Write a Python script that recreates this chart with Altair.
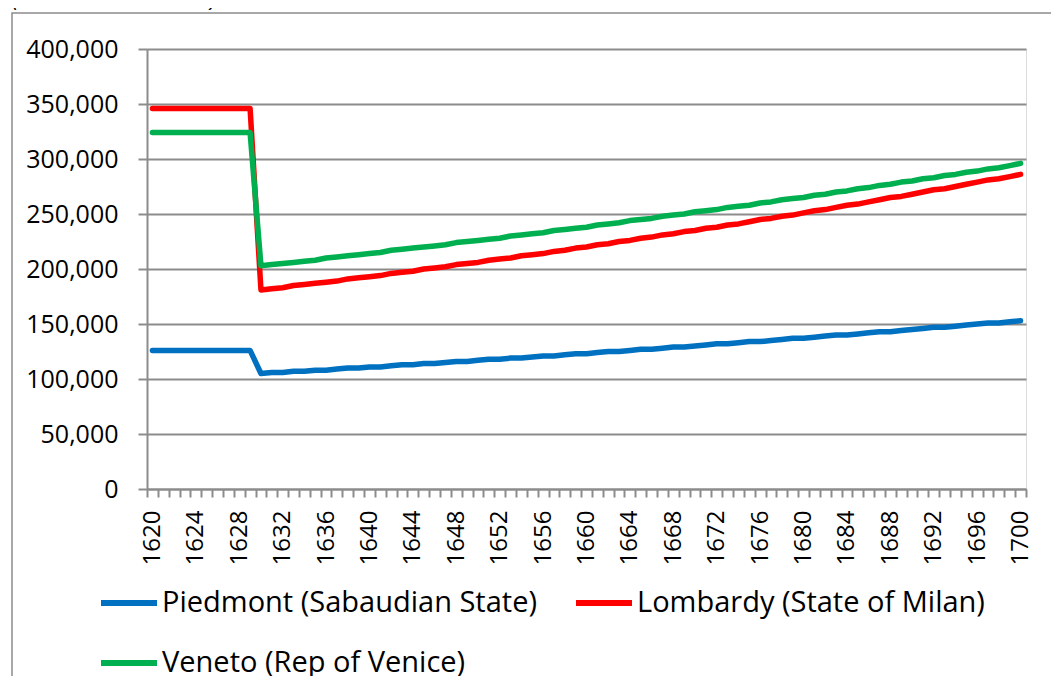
import altair as alt
import pandas as pd

years = list(range(1620, 1701))

piedmont = [126] * 10 + [
    105, 106, 106, 107, 107, 108, 108, 109, 110, 110, 111, 111, 112, 113, 113, 114,
    114, 115, 116, 116, 117, 118, 118, 119, 119, 120, 121, 121, 122, 123, 123, 124,
    125, 125, 126, 127, 127, 128, 129, 129, 130, 131, 132, 132, 133, 134, 134, 135,
    136, 137, 137, 138, 139, 140, 140, 141, 142, 143, 143, 144, 145, 146, 147, 147,
    148, 149, 150, 151, 151, 152, 153]

lombardy = [346] * 10 + [
    181, 182, 183, 185, 186, 187, 188, 189, 191, 192, 193, 194, 196, 197, 198, 200,
    201, 202, 204, 205, 206, 208, 209, 210, 212, 213, 214, 216, 217, 219, 220, 222,
    223, 225, 226, 228, 229, 231, 232, 234, 235, 237, 238, 240, 241, 243, 245, 246,
    248, 249, 251, 253, 254, 256, 258, 259, 261, 263, 265, 266, 268, 270, 272, 273,
    275, 277, 279, 281, 282, 284, 286]

veneto = [324] * 10 + [
    203, 204, 205, 206, 207, 208, 210, 211, 212, 213, 214, 215, 217, 218, 219, 220,
    221, 222, 224, 225, 226, 227, 228, 230, 231, 232, 233, 235, 236, 237, 238, 240,
    241, 242, 244, 245, 246, 248, 249, 250, 252, 253, 254, 256, 257, 258, 260, 261,
    263, 264, 265, 267, 268, 270, 271, 273, 274, 276, 277, 279, 280, 282, 283, 285,
    286, 288, 289, 291, 292, 294, 296]

series_names = ["Piedmont (Sabaudian State)", "Lombardy (State of Milan)", "Veneto (Rep of Venice)"]
series_colors = ["#0070C0", "#FF0000", "#00B050"]
y_ticks = [0, 50000, 100000, 150000, 200000, 250000, 300000, 350000, 400000]
title_text = "(absolute numbers)"

rows = []
for name, vals in zip(series_names, [piedmont, lombardy, veneto]):
    for yr, v in zip(years, vals):
        rows.append({"year": yr, "value": v * 1000, "region": name})
df = pd.DataFrame(rows)

# legend is filled column by column: order so that rows read Piedmont, Lombardy / Veneto
legend_order = [series_names[0], series_names[2], series_names[1]]
legend_colors = [series_colors[0], series_colors[2], series_colors[1]]

FONT = "Open Sans"
GRAY = "#8c8c8c"
W, H = 879, 440
band = W / 81.0

tick_vals = [y - 0.5 for y in years] + [1700.5]

lines = alt.Chart(df).mark_line(strokeWidth=5.5, strokeCap="round", strokeJoin="round").encode(
    x=alt.X("year:Q",
            scale=alt.Scale(domain=[1619.5, 1700.5], nice=False, zero=False),
            axis=alt.Axis(values=tick_vals, title=None, grid=False,
                          labelExpr="(datum.value + 0.5 - 1620) % 4 == 0 ? '' + (datum.value + 0.5) : ''",
                          labelAngle=-90, labelAlign="right", labelBaseline="middle",
                          labelOffset=band / 2, labelFlush=False, labelOverlap=False,
                          labelFont=FONT, labelFontSize=24, labelColor="#000000",
                          labelPadding=13, tickSize=8, tickColor=GRAY, tickWidth=2,
                          domainColor=GRAY, domainWidth=2)),
    y=alt.Y("value:Q",
            scale=alt.Scale(domain=[0, 400000], nice=False),
            axis=alt.Axis(values=y_ticks, title=None, format=",.0f", grid=True,
                          gridColor=GRAY, gridWidth=2, tickColor=GRAY, tickWidth=2,
                          tickSize=9, labelPadding=20, labelFont=FONT, labelFontSize=25,
                          labelColor="#000000", domainColor=GRAY, domainWidth=2)),
    color=alt.Color("region:N",
                    scale=alt.Scale(domain=legend_order, range=legend_colors),
                    legend=alt.Legend(title=None, orient="none", legendX=-49, legendY=523,
                                      columns=2, symbolType="stroke", symbolSize=3136,
                                      symbolStrokeWidth=6, labelFont=FONT, labelFontSize=29,
                                      labelColor="#000000", labelLimit=0, labelOffset=2,
                                      columnPadding=27, rowPadding=14)),
)

border = alt.Chart(pd.DataFrame({"t": [title_text]})).mark_rect(
    filled=False, stroke=GRAY, strokeWidth=1.5
).encode(x=alt.value(-135), y=alt.value(-36), x2=alt.value(2500), y2=alt.value(2500))

title = alt.Chart(pd.DataFrame({"t": [title_text]})).mark_text(
    font=FONT, fontSize=24, fontStyle="italic", align="left", baseline="alphabetic", color="#000000"
).encode(x=alt.value(-135), y=alt.value(-43), text="t:N")

chart = alt.layer(border, lines, title).properties(
    width=W, height=H,
    autosize=alt.AutoSizeParams(type="none"),
    padding={"left": 139, "top": 41, "right": 25, "bottom": 187},
).configure_view(stroke=None).configure(background="white")

chart.save("out.html", embed_options={"renderer": "svg", "actions": False})
